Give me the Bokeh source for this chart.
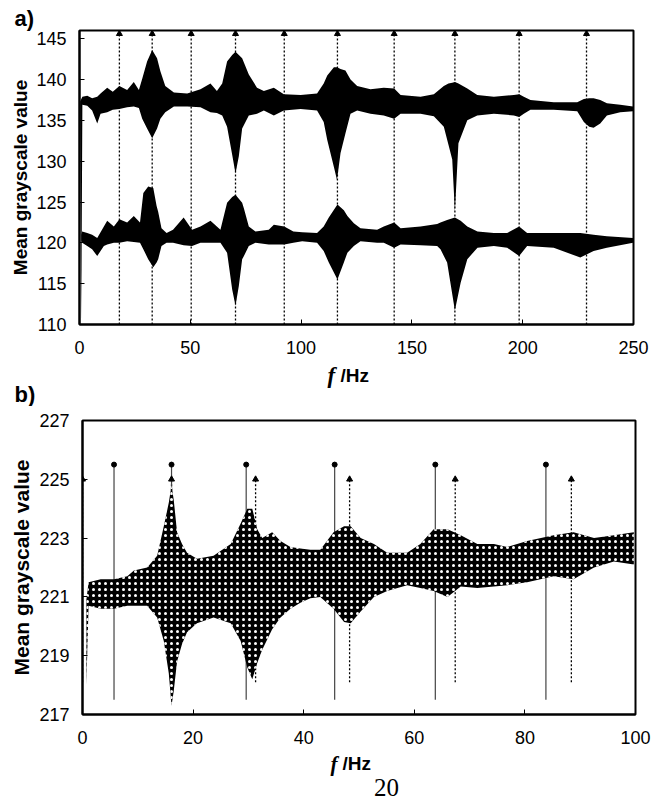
from bokeh.plotting import figure
from bokeh.layouts import column, row
from bokeh.models import Range1d, FixedTicker, Title
from bokeh.core.properties import value
from bokeh.embed import file_html
from bokeh.resources import INLINE

# ---------------- panel a) data (envelopes read from the picture) ----------------
ua_f = [0.3, 0.8, 1.3, 3.5, 5.7, 8.0, 9.5, 12.5, 15.0, 18.0, 21.5, 24.5, 26.8, 28.3,
        30.5, 32.8, 35.0, 36.5, 38.7, 42.6, 48.6, 54.6, 59.1, 62.0, 64.4, 66.6, 68.9,
        70.4, 71.9, 73.4, 76.4, 80.1, 83.2, 87.7, 92.2, 99.8, 107.2, 110.2, 111.8,
        114.8, 116.2, 117.8, 120.0, 122.3, 125.3, 131.3, 137.3, 142.0, 144.9, 153.9,
        159.9, 164.4, 166.5, 168.2, 169.4, 171.0, 175.0, 179.5, 187.0, 196.0, 198.4,
        200.5, 203.5, 214.0, 224.6, 227.6, 230.0, 232.0, 235.0, 238.0, 244.0, 249.8]
ua_top = [137.3, 137.6, 137.9, 138.0, 137.7, 137.9, 138.3, 139.0, 138.5, 139.2, 138.7,
          139.7, 138.7, 140.1, 142.2, 143.6, 142.6, 141.0, 139.2, 138.4, 138.3, 138.8,
          139.5, 138.6, 139.5, 142.2, 143.0, 143.4, 143.0, 142.6, 140.6, 139.0, 138.6,
          139.0, 138.2, 138.1, 138.3, 139.5, 140.5, 141.5, 141.5, 141.3, 141.1, 140.0,
          139.2, 138.8, 139.0, 138.9, 138.1, 137.9, 138.2, 139.2, 139.5, 139.6, 139.7,
          139.5, 138.9, 138.1, 137.9, 138.1, 138.2, 137.9, 137.5, 137.2, 137.2, 137.6,
          137.7, 137.7, 137.5, 137.1, 136.9, 136.7]
ua_bot = [136.0, 110.5, 136.9, 136.8, 136.2, 134.6, 135.8, 136.0, 136.3, 136.4, 136.6,
          136.7, 136.5, 135.2, 134.0, 132.8, 134.0, 135.2, 136.0, 136.7, 136.7, 136.6,
          136.0, 135.9, 135.6, 134.2, 130.8, 128.5, 130.6, 134.0, 135.6, 135.8, 136.2,
          135.6, 136.2, 136.4, 136.2, 134.8, 132.6, 129.3, 127.7, 131.0, 133.4, 135.8,
          136.2, 135.8, 135.6, 135.2, 135.8, 135.8, 135.5, 134.2, 132.0, 130.2, 123.8,
          132.2, 135.0, 135.6, 135.8, 135.6, 135.4, 135.8, 136.3, 136.3, 136.1, 134.8,
          134.2, 134.1, 134.6, 135.6, 136.0, 136.1]

la_f = [0.8, 1.2, 3.5, 5.7, 8.0, 11.0, 12.5, 15.5, 18.0, 21.5, 24.5, 27.3, 28.8, 31.0,
        33.3, 34.8, 35.5, 37.0, 39.3, 42.2, 47.0, 50.8, 54.6, 59.1, 63.6, 66.6, 68.9,
        70.4, 71.9, 73.4, 74.2, 76.4, 79.4, 85.4, 87.7, 92.4, 96.5, 100.5, 107.2, 110.2,
        112.5, 116.4, 119.3, 120.9, 123.8, 126.8, 134.3, 137.3, 142.0, 144.9, 153.9,
        161.4, 162.9, 165.9, 169.4, 172.0, 175.0, 179.6, 187.0, 193.0, 198.4, 202.0,
        214.0, 226.0, 232.0, 238.0, 249.8]
la_top = [121.0, 121.4, 121.2, 121.0, 120.6, 122.0, 122.7, 122.0, 122.9, 122.5, 123.3,
          122.5, 126.1, 126.9, 126.7, 124.5, 123.8, 121.8, 121.2, 121.6, 123.1, 121.6,
          122.0, 122.7, 121.6, 124.9, 125.6, 125.9, 125.4, 124.9, 124.2, 122.0, 121.4,
          121.6, 122.2, 122.0, 121.4, 121.3, 121.2, 122.0, 123.1, 124.7, 124.0, 123.3,
          122.4, 121.8, 121.6, 122.0, 122.5, 121.8, 122.0, 122.3, 122.5, 122.8, 123.1,
          122.7, 122.0, 121.4, 121.2, 121.2, 122.0, 121.2, 121.2, 121.2, 121.0, 120.8,
          120.6]
la_bot = [120.3, 120.0, 119.6, 119.2, 118.4, 119.6, 119.8, 120.0, 120.0, 120.2, 120.1,
          120.0, 119.2, 118.0, 117.0, 117.6, 118.0, 119.6, 120.0, 120.0, 119.7, 119.6,
          120.0, 120.0, 120.0, 118.8, 114.3, 112.3, 114.7, 118.0, 118.4, 119.6, 120.0,
          119.8, 119.8, 119.8, 120.0, 120.2, 120.0, 119.0, 117.6, 115.5, 117.6, 118.8,
          119.6, 120.2, 120.0, 120.0, 119.4, 119.8, 119.7, 119.6, 119.2, 117.6, 111.7,
          115.1, 118.0, 119.4, 119.6, 119.4, 118.4, 119.6, 119.4, 118.2, 119.0, 119.4,
          120.0]

a_marks = [18.0, 32.8, 50.4, 70.4, 92.4, 116.4, 142.0, 169.4, 198.4, 228.8]
a_mark_top = 145.6
a_mark_bottom = 110.0
a_xticks = [0, 50, 100, 150, 200, 250]
a_yticks = [110, 115, 120, 125, 130, 135, 140, 145]

# ---------------- panel b) data ----------------
b_f = [0.7, 1.1, 3.3, 5.7, 8.1, 9.3, 11.7, 13.5, 14.7, 15.6, 16.1, 16.5, 17.1, 18.0,
       18.9, 20.7, 23.7, 26.8, 28.6, 29.8, 30.7, 31.6, 32.5, 34.3, 35.8, 37.6, 39.4,
       41.2, 43.0, 45.4, 47.3, 48.5, 50.3, 52.7, 55.1, 58.7, 61.1, 63.5, 66.0, 68.4,
       71.4, 74.4, 76.8, 80.4, 85.2, 88.8, 92.5, 96.1, 99.7]
b_top = [220.9, 221.5, 221.6, 221.6, 221.7, 221.9, 222.0, 222.4, 223.4, 224.2, 224.8,
         224.3, 223.2, 222.8, 222.5, 222.3, 222.4, 222.8, 223.5, 224.0, 224.0, 223.3,
         223.0, 223.2, 222.9, 222.7, 222.65, 222.6, 222.6, 223.2, 223.4, 223.4, 223.0,
         222.8, 222.5, 222.5, 222.8, 223.3, 223.3, 223.1, 222.8, 222.8, 222.7, 222.9,
         223.1, 223.2, 223.0, 223.1, 223.2]
b_bot = [218.0, 220.7, 220.6, 220.6, 220.7, 220.7, 220.7, 220.3, 219.5, 218.4, 217.3,
         217.8, 218.8, 219.4, 219.8, 220.1, 220.3, 220.1, 219.5, 218.6, 218.2, 218.75,
         219.2, 219.9, 220.3, 220.6, 220.8, 220.95, 221.0, 220.6, 220.15, 220.1, 220.5,
         221.0, 221.2, 221.4, 221.3, 221.2, 221.0, 221.35, 221.3, 221.35, 221.4, 221.5,
         221.7, 221.6, 222.0, 222.2, 222.1]

b_solid = [5.7, 16.1, 29.6, 45.6, 63.8, 83.8]
b_solid_top = 225.5
b_solid_bottom = 217.5
b_dotted = [0.0, 16.1, 31.3, 48.3, 67.4, 88.4]
b_dotted_top = 225.0
b_dotted_bottom = 218.1
b_xticks = [0, 20, 40, 60, 80, 100]
b_yticks = [217, 219, 221, 223, 225, 227]

SANS = "Liberation Sans"
SERIF = "Liberation Serif"
W = 651


def make_fig(h, xr, yr, bl, br, bt, bb, xt, yt, xstand):
    p = figure(width=W, height=h, x_range=Range1d(*xr), y_range=Range1d(*yr),
               output_backend="svg", toolbar_location=None,
               min_border_left=bl, min_border_right=br,
               min_border_top=bt, min_border_bottom=bb)
    p.grid.visible = False
    p.background_fill_color = "white"
    p.border_fill_color = "white"
    p.outline_line_color = "black"
    p.outline_line_width = 2
    p.outline_line_alpha = 1.0
    p.xaxis.ticker = FixedTicker(ticks=xt)
    p.yaxis.ticker = FixedTicker(ticks=yt)
    for ax in (p.xaxis, p.yaxis):
        ax.axis_line_width = 2
        ax.axis_line_color = "black"
        ax.major_tick_in = 5
        ax.major_tick_out = 0
        ax.major_tick_line_color = "black"
        ax.minor_tick_line_color = None
        ax.major_label_text_font = SANS
        ax.major_label_text_font_size = "18px"
        ax.major_label_text_color = "black"
    p.yaxis.major_label_standoff = 13
    p.xaxis.major_label_standoff = xstand
    return p


def text_strip(h):
    s = figure(width=W, height=h, x_range=Range1d(0, W), y_range=Range1d(h, 0),
               output_backend="svg", toolbar_location=None,
               x_axis_location=None, y_axis_location=None,
               min_border=0, min_border_left=0, min_border_right=0,
               min_border_top=0, min_border_bottom=0)
    s.grid.visible = False
    s.outline_line_color = None
    s.background_fill_color = "white"
    s.border_fill_color = "white"
    return s


def put(s, x, y, t, font, style, size, align="left"):
    s.text(x=[x], y=[y], text=[t], text_font=value(font), text_font_style=style,
           text_font_size=size, text_baseline="middle", text_align=align,
           text_color="black")


# ---------------- figure a (page y 0..364) ----------------
pa = make_fig(364, (0, 250), (110, 146), 79, 18, 30, 40, a_xticks, a_yticks, 16)
pa.add_layout(Title(text="a)", align="left", offset=-65, standoff=0,
                    text_font=SANS, text_font_style="bold", text_font_size="22px",
                    text_color="black"), "above")
pa.add_layout(Title(text="Mean grayscale value", align="center", offset=16, standoff=5,
                    text_font=SANS, text_font_style="bold", text_font_size="19px",
                    text_color="black"), "left")
pa.segment(x0=a_marks, y0=[a_mark_bottom] * len(a_marks), x1=a_marks,
           y1=[a_mark_top] * len(a_marks), line_color="black", line_width=1.3,
           line_dash="2 2")
pa.scatter(x=a_marks, y=[a_mark_top] * len(a_marks), marker="triangle", size=6,
           color="black")
pa.varea(x=ua_f, y1=ua_bot, y2=ua_top, fill_color="black")
pa.varea(x=la_f, y1=la_bot, y2=la_top, fill_color="black")

# ---------------- text strip between the panels (page y 364..406) ----------------
sa = text_strip(42)
put(sa, 327, 11, "f", SERIF, "bold italic", "23px")
put(sa, 340, 11, "/Hz", SANS, "bold", "19px")
put(sa, 14, 30, "b)", SANS, "bold", "22px")

# ---------------- figure b (page y 406..751) ----------------
pb = make_fig(345, (0, 100), (217, 227), 82, 16, 14, 37, b_xticks, b_yticks, 16)
pb.add_layout(Title(text="Mean grayscale value", align="center", offset=14, standoff=8,
                    text_font=SANS, text_font_style="bold", text_font_size="21px",
                    text_color="black"), "left")
pb.segment(x0=b_dotted, y0=[b_dotted_bottom] * len(b_dotted), x1=b_dotted,
           y1=[b_dotted_top] * len(b_dotted), line_color="black", line_width=1.3,
           line_dash="2 2")
pb.segment(x0=b_solid, y0=[b_solid_bottom] * len(b_solid), x1=b_solid,
           y1=[b_solid_top] * len(b_solid), line_color="#444444", line_width=1.2)
pb.varea(x=b_f, y1=b_bot, y2=b_top, fill_color="black", hatch_pattern="dot",
         hatch_color="white", hatch_scale=6, hatch_weight=1.2)
pb.scatter(x=b_dotted, y=[b_dotted_top] * len(b_dotted), marker="triangle", size=6,
           color="black")
pb.scatter(x=b_solid, y=[b_solid_top] * len(b_solid), marker="circle", size=5,
           color="black")

# ---------------- bottom text strip (page y 751..802) ----------------
sb = text_strip(51)
put(sb, 330, 12, "f", SERIF, "bold italic", "21px")
put(sb, 342, 12, "/Hz", SANS, "bold", "19px")
put(sb, 386, 36, "20", SERIF, "normal", "25px", align="center")

layout = column(row(pa), row(sa), row(pb), row(sb), spacing=0)
open("out.html", "w").write(file_html(layout, INLINE))
